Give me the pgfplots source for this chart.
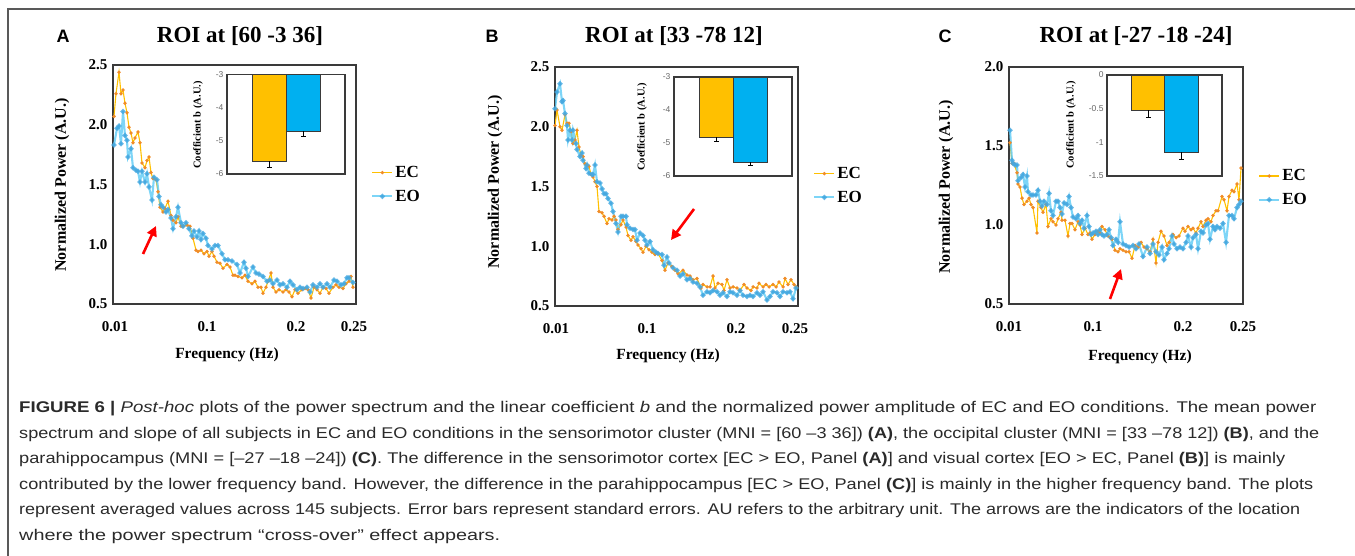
\documentclass[border=0pt]{standalone}
\usepackage{fontspec}
\setmainfont{Liberation Serif}
\newfontfamily\capfont{Liberation Sans}
\usepackage{graphicx}
\usepackage{pgfplots}
\pgfplotsset{compat=1.18}
\usetikzlibrary{arrows.meta}

\definecolor{ecline}{HTML}{FFC000}
\definecolor{ecmark}{HTML}{F08C28}
\definecolor{eoline}{HTML}{5CCBF5}
\definecolor{eomark}{HTML}{45A8E0}
\definecolor{ecbar}{HTML}{FFC000}
\definecolor{eobar}{HTML}{00B0F0}
\definecolor{framegray}{HTML}{3A3A3A}
\definecolor{capgray}{HTML}{2A2A2A}

\pgfplotsset{
  mainax/.style={
    anchor=south west, scale only axis,
    axis line style={framegray, line width=1.3pt},
    tick style={draw=none},
    ymin=0.5,
    /pgf/number format/assume math mode=true,
    yticklabel style={font=\fontsize{15}{15}\selectfont\bfseries, /pgf/number format/fixed, /pgf/number format/fixed zerofill, /pgf/number format/precision=1, xshift=-2pt},
    xticklabel style={font=\fontsize{15}{15}\selectfont\bfseries, yshift=-14pt},
    xticklabels={0.01,0.1,0.2,0.25},
    legend cell align=left,
    legend image code/.code={\draw[mark repeat=2,mark phase=2,##1] plot coordinates {(0pt,0pt) (10pt,0pt) (20pt,0pt)};},
    legend style={anchor=west, draw=none, fill=none, inner sep=0pt, font=\fontsize{17}{17}\selectfont\bfseries, row sep=7pt},
  },
  ecstyle/.style={color=ecline, line width=1.1pt, mark=*, mark size=1.1pt, mark options={fill=ecmark, draw=ecmark}},
  eostyle/.style={color=eoline, line width=2.1pt, opacity=0.8, mark=*, mark size=1.4pt, mark options={fill=eomark, draw=eomark}},
  inset/.style={anchor=south west, scale only axis, axis line style={framegray, line width=1.1pt}, tick style={draw=none}, xtick=\empty, axis background/.style={fill=white}, /pgf/number format/assume math mode=true, yticklabel style={font=\capfont\fontsize{8.5}{8.5}\selectfont, text=black!60}, ybar, bar width=34pt},
  barEC/.style={fill=ecbar, draw=framegray, line width=0.8pt, bar shift=0pt, error bars/.cd, y dir=minus, y explicit, error bar style={black, line width=0.9pt}, error mark options={rotate=90, mark size=2.5pt, black, line width=0.9pt}},
  barEO/.style={fill=eobar, draw=framegray, line width=0.8pt, bar shift=0pt, error bars/.cd, y dir=minus, y explicit, error bar style={black, line width=0.9pt}, error mark options={rotate=90, mark size=2.5pt, black, line width=0.9pt}},
}

\begin{document}
\begin{tikzpicture}[x=1pt,y=1pt]
\path[use as bounding box] (0,0) rectangle (1355,556);
% frame
\draw[black!65, line width=1.6pt] (8,0) -- (8,547) -- (1355,547);

% ---------------- Panel A ----------------
\begin{axis}[mainax, at={(113pt,252pt)}, width=243pt, height=239pt,
  xmin=113, xmax=356, ymax=2.5, ytick={0.5,1,1.5,2,2.5}, xtick={115,207,296,354},
  legend style={at={(1.062,0.5)}}]
\addplot[ecstyle] coordinates {
(114,2.07)(116,2.26)(119,2.44)(121,2.26)(123,2.29)(125,2.18)(127,2.10)(129,1.98)(131,1.93)(133,1.85)
(135,1.89)(138,1.94)(140,1.85)(142,1.68)(145,1.64)(147,1.70)(149,1.73)(151,1.60)(153,1.55)(156,1.54)
(158,1.44)(160,1.31)(163,1.27)(165,1.30)(168,1.36)(171,1.24)(173,1.20)(176,1.18)(178,1.23)(181,1.15)
(183,1.15)(187,1.16)(190,1.15)(193,1.05)(196,0.95)(198,0.94)(201,0.95)(204,0.92)(207,0.94)(209,0.90)
(212,0.94)(214,0.90)(217,0.85)(220,0.84)(223,0.80)(227,0.83)(230,0.81)(233,0.74)(235,0.74)(238,0.73)
(242,0.72)(245,0.74)(248,0.69)(252,0.67)(255,0.69)(258,0.64)(261,0.64)(263,0.59)(266,0.64)(268,0.69)
(271,0.76)(273,0.64)(276,0.60)(279,0.62)(283,0.60)(286,0.62)(289,0.60)(292,0.56)(295,0.62)(298,0.59)
(302,0.62)(305,0.63)(308,0.62)(311,0.55)(314,0.64)(317,0.62)(320,0.59)(323,0.64)(326,0.63)(329,0.59)
(333,0.64)(336,0.66)(339,0.64)(343,0.63)(346,0.67)(349,0.69)(351,0.73)(353,0.64)};
\addlegendentry{EC}
\addplot[eostyle] coordinates {
(114,1.83)(117,1.97)(119,1.99)(121,1.84)(123,2.11)(125,1.91)(127,1.87)(128,1.73)(131,1.80)(133,1.64)
(136,1.62)(138,1.61)(140,1.52)(142,1.61)(145,1.52)(147,1.59)(149,1.48)(152,1.37)(154,1.56)(157,1.54)
(159,1.40)(161,1.33)(163,1.31)(166,1.27)(168,1.29)(171,1.22)(173,1.13)(176,1.23)(178,1.31)(181,1.18)
(183,1.15)(186,1.18)(189,1.13)(192,1.07)(194,1.11)(197,1.06)(199,1.11)(201,1.04)(203,1.09)(206,1.05)
(208,0.99)(212,0.96)(215,0.99)(218,0.99)(222,0.92)(225,0.87)(228,0.87)(232,0.86)(237,0.83)(240,0.76)
(244,0.85)(246,0.80)(248,0.73)(253,0.81)(256,0.76)(259,0.75)(263,0.73)(267,0.69)(270,0.70)(273,0.67)
(277,0.70)(280,0.66)(283,0.67)(287,0.64)(290,0.69)(293,0.66)(297,0.62)(300,0.64)(303,0.63)(307,0.64)
(310,0.60)(313,0.66)(317,0.64)(320,0.67)(323,0.64)(327,0.67)(330,0.64)(334,0.70)(337,0.69)(341,0.66)
(344,0.67)(347,0.72)(349,0.72)(353,0.68)};
\addlegendentry{EO}
\end{axis}

\begin{axis}[inset, at={(227pt,382pt)}, width=118pt, height=99.7pt,
  xmin=227, xmax=345, ymin=-6, ymax=-3, ytick={-6,-5,-4,-3}]
\addplot[barEC] coordinates {(269,-5.61) +- (0,0.19)};
\addplot[barEO] coordinates {(303,-4.71) +- (0,0.17)};
\end{axis}

% ---------------- Panel B ----------------
\begin{axis}[mainax, at={(555pt,250pt)}, width=243pt, height=239pt,
  xmin=555, xmax=798, ymax=2.5, ytick={0.5,1,1.5,2,2.5}, xtick={556,647,736,795},
  legend style={at={(1.062,0.504)}}]
\addplot[ecstyle] coordinates {
(555,2.01)(557,2.14)(560,2.00)(562,1.97)(565,2.10)(567,2.03)(569,2.03)(571,1.96)(573,1.86)(575,1.89)
(577,1.97)(579,1.83)(581,1.76)(583,1.75)(585,1.69)(587,1.68)(589,1.67)(591,1.60)(593,1.58)(595,1.54)
(597,1.50)(599,1.29)(602,1.28)(604,1.25)(607,1.19)(609,1.23)(612,1.22)(614,1.25)(616,1.22)(618,1.14)
(621,1.18)(623,1.22)(626,1.16)(628,1.09)(631,1.05)(633,1.08)(636,1.04)(638,1.01)(641,0.98)(643,0.95)
(646,1.00)(649,0.97)(652,0.95)(655,0.93)(658,0.94)(662,0.88)(665,0.80)(668,0.86)(672,0.83)(675,0.80)
(678,0.77)(683,0.80)(687,0.76)(690,0.75)(693,0.72)(697,0.73)(701,0.65)(703,0.68)(707,0.66)(710,0.66)
(713,0.75)(715,0.65)(718,0.69)(722,0.68)(724,0.63)(727,0.72)(730,0.65)(733,0.66)(737,0.65)(740,0.63)
(744,0.68)(747,0.65)(751,0.63)(753,0.66)(757,0.65)(759,0.69)(763,0.66)(766,0.68)(769,0.66)(773,0.68)
(776,0.66)(779,0.70)(783,0.66)(785,0.73)(788,0.68)(791,0.72)(794,0.68)(796,0.66)};
\addlegendentry{EC}
\addplot[eostyle] coordinates {
(555,2.15)(557,2.29)(560,2.36)(562,2.21)(563,2.22)(565,2.11)(567,2.01)(568,1.89)(570,1.97)(572,1.89)
(573,1.97)(576,1.86)(577,1.81)(580,1.75)(582,1.78)(583,1.72)(586,1.65)(587,1.68)(589,1.61)(592,1.60)
(593,1.60)(595,1.68)(597,1.54)(600,1.53)(602,1.48)(604,1.44)(606,1.44)(608,1.40)(611,1.36)(613,1.29)
(616,1.19)(618,1.12)(621,1.25)(623,1.25)(626,1.25)(627,1.18)(630,1.15)(633,1.14)(635,1.14)(637,1.05)
(640,1.11)(643,1.09)(645,1.05)(647,1.01)(650,1.04)(653,0.97)(656,0.95)(658,0.94)(662,0.93)(664,0.84)
(667,0.91)(669,0.86)(673,0.82)(677,0.80)(680,0.75)(683,0.77)(687,0.72)(690,0.73)(693,0.70)(697,0.69)
(700,0.66)(703,0.59)(707,0.62)(710,0.61)(713,0.63)(717,0.62)(720,0.59)(723,0.61)(727,0.58)(730,0.62)
(733,0.61)(737,0.59)(740,0.63)(743,0.59)(747,0.58)(750,0.59)(753,0.58)(757,0.61)(760,0.59)(763,0.62)
(767,0.55)(770,0.58)(773,0.62)(777,0.61)(780,0.58)(783,0.62)(787,0.61)(790,0.62)(793,0.56)(796,0.65)};
\addlegendentry{EO}
\end{axis}

\begin{axis}[inset, at={(674pt,380pt)}, width=118pt, height=99pt,
  xmin=674, xmax=792, ymin=-6, ymax=-3, ytick={-6,-5,-4,-3}]
\addplot[barEC] coordinates {(716,-4.82) +- (0,0.14)};
\addplot[barEO] coordinates {(750,-5.58) +- (0,0.10)};
\end{axis}

% ---------------- Panel C ----------------
\begin{axis}[mainax, at={(1009pt,252pt)}, width=234pt, height=237pt,
  xmin=1009, xmax=1243, ymax=2.0, ytick={0.5,1,1.5,2}, xtick={1009,1093,1183,1243},
  legend style={at={(1.064,0.49)}}]
\addplot[ecstyle] coordinates {
(1010,1.52)(1012,1.39)(1014,1.39)(1017,1.33)(1018,1.26)(1020,1.24)(1022,1.17)(1024,1.13)(1027,1.15)(1029,1.17)
(1031,1.13)(1033,1.11)(1037,0.95)(1038,1.15)(1041,1.11)(1043,1.08)(1046,1.13)(1048,0.99)(1051,1.04)(1053,1.02)
(1056,1.00)(1058,1.04)(1061,1.08)(1062,1.03)(1065,1.03)(1068,0.93)(1070,1.01)(1072,1.01)(1075,0.97)(1078,1.02)
(1080,1.00)(1082,0.94)(1085,0.98)(1088,0.94)(1090,0.95)(1092,0.91)(1095,0.94)(1098,0.96)(1100,0.95)(1102,0.99)
(1105,0.97)(1108,0.93)(1110,0.92)(1112,0.91)(1115,0.84)(1118,0.83)(1120,0.85)(1123,0.84)(1126,0.83)(1129,0.83)
(1132,0.79)(1135,0.87)(1138,0.86)(1141,0.89)(1144,0.86)(1147,0.85)(1150,0.83)(1153,0.91)(1156,0.76)(1158,0.89)
(1161,0.96)(1164,0.93)(1167,0.87)(1169,0.89)(1173,0.94)(1176,0.92)(1179,0.93)(1183,0.98)(1185,0.96)(1188,0.99)
(1191,0.97)(1193,0.98)(1196,0.95)(1198,0.98)(1201,1.02)(1203,0.99)(1206,1.03)(1208,1.04)(1211,1.02)(1213,1.06)
(1216,1.09)(1218,1.09)(1222,1.18)(1224,1.16)(1227,1.09)(1229,1.18)(1232,1.22)(1234,1.21)(1237,1.26)(1239,1.16)
(1241,1.36)};
\addlegendentry{EC}
\addplot[eostyle] coordinates {
(1010,1.60)(1012,1.41)(1013,1.39)(1015,1.38)(1017,1.38)(1018,1.28)(1021,1.30)(1023,1.32)(1025,1.24)(1027,1.31)
(1028,1.21)(1031,1.19)(1033,1.19)(1036,1.19)(1038,1.22)(1040,1.15)(1042,1.12)(1044,1.15)(1047,1.13)(1049,1.20)
(1051,1.09)(1053,1.06)(1056,1.15)(1058,1.15)(1060,1.11)(1062,1.07)(1064,1.14)(1067,1.13)(1069,1.18)(1071,1.11)
(1073,1.05)(1076,1.04)(1078,1.06)(1080,1.01)(1082,1.03)(1084,0.98)(1087,1.06)(1089,0.99)(1091,0.94)(1093,0.95)
(1096,0.96)(1098,0.94)(1100,0.97)(1102,0.94)(1104,0.93)(1107,0.94)(1109,0.97)(1111,0.92)(1113,0.87)(1116,0.91)
(1118,0.89)(1120,1.02)(1123,0.88)(1126,0.87)(1129,0.86)(1133,0.87)(1136,0.85)(1139,0.88)(1143,0.80)(1147,0.86)
(1150,0.82)(1153,0.88)(1156,0.83)(1159,0.81)(1162,0.86)(1164,0.78)(1167,0.82)(1169,0.85)(1172,0.93)(1174,0.88)
(1177,0.85)(1180,0.86)(1183,0.85)(1186,0.89)(1188,0.93)(1191,0.86)(1193,0.92)(1196,0.94)(1198,0.85)(1201,0.96)
(1203,0.95)(1206,1.00)(1208,1.01)(1210,0.91)(1213,0.99)(1215,0.97)(1217,0.99)(1220,0.98)(1223,1.01)(1226,0.89)
(1229,1.06)(1232,1.06)(1234,1.04)(1237,1.11)(1239,1.13)(1241,1.15)};
\addlegendentry{EO}
\end{axis}

\begin{axis}[inset, at={(1107pt,380pt)}, width=115pt, height=101pt,
  xmin=1107, xmax=1222, ymin=-1.5, ymax=0, ytick={-1.5,-1,-0.5,0}]
\addplot[barEC] coordinates {(1148,-0.52) +- (0,0.11)};
\addplot[barEO] coordinates {(1181,-1.15) +- (0,0.11)};
\end{axis}

% ---------------- Labels ----------------
\begin{scope}[font=\bfseries]
\node[anchor=base, font=\capfont\bfseries\fontsize{18}{18}\selectfont] at (63,513) {A};
\node[anchor=base, font=\capfont\bfseries\fontsize{18}{18}\selectfont] at (492,513) {B};
\node[anchor=base, font=\capfont\bfseries\fontsize{18}{18}\selectfont] at (945,513) {C};
\node[anchor=base, font=\bfseries\fontsize{23}{23}\selectfont] at (240,513) {ROI at [60 -3 36]};
\node[anchor=base, font=\bfseries\fontsize{23}{23}\selectfont] at (674,513) {ROI at [33 -78 12]};
\node[anchor=base, font=\bfseries\fontsize{23}{23}\selectfont] at (1136,513) {ROI at [-27 -18 -24]};
\node[rotate=90, font=\bfseries\fontsize{16}{16}\selectfont] at (62,371) {Normalized Power (A.U.)};
\node[rotate=90, font=\bfseries\fontsize{16}{16}\selectfont] at (495,374) {Normalized Power (A.U.)};
\node[rotate=90, font=\bfseries\fontsize{16}{16}\selectfont] at (946,369) {Normalized Power (A.U.)};
\node[font=\bfseries\fontsize{15.5}{15.5}\selectfont] at (227,201) {Frequency (Hz)};
\node[font=\bfseries\fontsize{15.5}{15.5}\selectfont] at (668,200) {Frequency (Hz)};
\node[font=\bfseries\fontsize{15.5}{15.5}\selectfont] at (1140,199) {Frequency (Hz)};
\node[rotate=90, font=\bfseries\fontsize{10.5}{10.5}\selectfont] at (198,431) {Coefficient b (A.U.)};
\node[rotate=90, font=\bfseries\fontsize{10.5}{10.5}\selectfont] at (642,429) {Coefficient b (A.U.)};
\node[rotate=90, font=\bfseries\fontsize{10.5}{10.5}\selectfont] at (1071,431) {Coefficient b (A.U.)};
\end{scope}

% arrows
\draw[red, line width=2.6pt, -{Triangle[length=10pt,width=10pt]}] (143,302) -- (156,330);
\draw[red, line width=2.6pt, -{Triangle[length=10pt,width=10pt]}] (694,347) -- (671,316);
\draw[red, line width=2.6pt, -{Triangle[length=10pt,width=10pt]}] (1110,257) -- (1121,287);

% caption
\begin{scope}[every node/.style={anchor=base west, inner sep=0pt, text=capgray, font=\capfont\fontsize{15.5}{15.5}\selectfont}]
\node at (19,143.5) {\resizebox{1297pt}{\height}{\textbf{FIGURE 6 |} \textit{Post-hoc} plots of the power spectrum and the linear coefficient \textit{b} and the normalized power amplitude of EC and EO conditions. The mean power}};
\node at (19,117.9) {\resizebox{1300pt}{\height}{spectrum and slope of all subjects in EC and EO conditions in the sensorimotor cluster (MNI = [60 \textendash3 36]) \textbf{(A)}, the occipital cluster (MNI = [33 \textendash78 12]) \textbf{(B)}, and the}};
\node at (19,92.3) {\resizebox{1266pt}{\height}{parahippocampus (MNI = [\textendash27 \textendash18 \textendash24]) \textbf{(C)}. The difference in the sensorimotor cortex [EC > EO, Panel \textbf{(A)}] and visual cortex [EO > EC, Panel \textbf{(B)}] is mainly}};
\node at (19,66.7) {\resizebox{1294pt}{\height}{contributed by the lower frequency band. However, the difference in the parahippocampus [EC > EO, Panel \textbf{(C)}] is mainly in the higher frequency band. The plots}};
\node at (19,41.1) {\resizebox{1281pt}{\height}{represent averaged values across 145 subjects. Error bars represent standard errors. AU refers to the arbitrary unit. The arrows are the indicators of the location}};
\node at (19,15.5) {\resizebox{481pt}{\height}{where the power spectrum “cross-over” effect appears.}};
\end{scope}
\end{tikzpicture}
\end{document}
